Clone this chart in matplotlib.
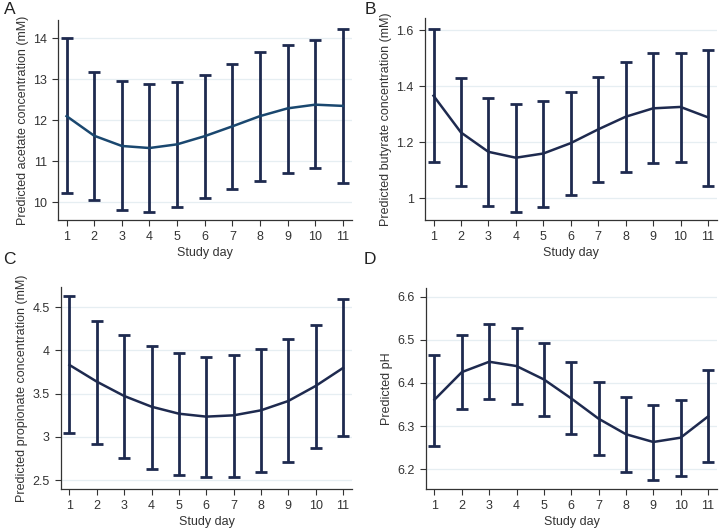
import numpy as np
import matplotlib
matplotlib.use('Agg')
import matplotlib.pyplot as plt

plt.rcParams['font.family'] = ['Liberation Sans', 'DejaVu Sans']

days = list(range(1, 12))

# panel A - acetate
acetate = [12.10, 11.62, 11.37, 11.32, 11.41, 11.61, 11.85, 12.10, 12.29, 12.38, 12.35]
acetate_hi = [14.00, 13.18, 12.95, 12.88, 12.94, 13.11, 13.37, 13.66, 13.85, 13.95, 14.24]
acetate_lo = [10.22, 10.06, 9.81, 9.76, 9.88, 10.10, 10.31, 10.51, 10.72, 10.82, 10.46]

# panel B - butyrate
butyrate = [1.366, 1.235, 1.166, 1.145, 1.160, 1.197, 1.246, 1.291, 1.321, 1.326, 1.289]
butyrate_hi = [1.605, 1.430, 1.359, 1.337, 1.348, 1.381, 1.434, 1.485, 1.517, 1.519, 1.530]
butyrate_lo = [1.128, 1.044, 0.974, 0.952, 0.971, 1.013, 1.057, 1.095, 1.127, 1.130, 1.045]

# panel C - propionate
propionate = [3.832, 3.639, 3.473, 3.349, 3.268, 3.234, 3.249, 3.307, 3.415, 3.589, 3.797]
propionate_hi = [4.631, 4.342, 4.180, 4.056, 3.967, 3.929, 3.944, 4.017, 4.129, 4.291, 4.597]
propionate_lo = [3.046, 2.920, 2.759, 2.631, 2.562, 2.535, 2.539, 2.597, 2.709, 2.867, 3.010]

# panel D - pH
ph = [6.361, 6.425, 6.449, 6.439, 6.408, 6.364, 6.317, 6.281, 6.263, 6.273, 6.322]
ph_hi = [6.465, 6.512, 6.537, 6.527, 6.493, 6.448, 6.402, 6.368, 6.349, 6.360, 6.430]
ph_lo = [6.254, 6.339, 6.362, 6.352, 6.324, 6.281, 6.233, 6.194, 6.175, 6.185, 6.217]

panels = [
    ('A', acetate, acetate_lo, acetate_hi, 'Predicted acetate concentration (mM)',
     [10, 11, 12, 13, 14], ['10', '11', '12', '13', '14'], (9.56, 14.45), '#1a476f'),
    ('B', butyrate, butyrate_lo, butyrate_hi, 'Predicted butyrate concentration (mM)',
     [1.0, 1.2, 1.4, 1.6], ['1', '1.2', '1.4', '1.6'], (0.923, 1.643), '#1e2a4f'),
    ('C', propionate, propionate_lo, propionate_hi, 'Predicted propionate concentration (mM)',
     [2.5, 3.0, 3.5, 4.0, 4.5], ['2.5', '3', '3.5', '4', '4.5'], (2.396, 4.735), '#1e2a4f'),
    ('D', ph, ph_lo, ph_hi, 'Predicted pH',
     [6.2, 6.3, 6.4, 6.5, 6.6], ['6.2', '6.3', '6.4', '6.5', '6.6'], (6.154, 6.62), '#1e2a4f'),
]

# axes rectangles in pixels: left, top, right, bottom
W, H = 720, 529
boxes = [(58, 20, 352, 220), (425, 18, 717, 220), (61, 287, 352, 489), (426, 288, 717, 489)]
letters = [(4, 17), (365, 17), (3, 267), (364, 267)]

fig = plt.figure(figsize=(7.2, 5.29), dpi=100)
bar_col = '#1e2a4f'

for (lab, mean, lo, hi, ylab, yt, ytl, ylim, lc), (l, t, r, b), (lx, ly) in zip(panels, boxes, letters):
    ax = fig.add_axes([l / W, 1 - b / H, (r - l) / W, (b - t) / H])
    mean = np.array(mean)
    err = [mean - np.array(lo), np.array(hi) - mean]
    ax.errorbar(days, mean, yerr=err, fmt='none', ecolor=bar_col, elinewidth=2,
                capsize=4, capthick=2, zorder=3)
    ax.plot(days, mean, color=lc, lw=1.8, zorder=4)
    ax.set_xlim(0.69, 11.33)
    ax.set_ylim(*ylim)
    ax.set_xticks(days)
    ax.set_yticks(yt)
    ax.set_yticklabels(ytl)
    ax.grid(axis='y', color='#e6eef2', lw=0.9, zorder=0)
    for s in ['top', 'right']:
        ax.spines[s].set_visible(False)
    for s in ['left', 'bottom']:
        ax.spines[s].set_color('#333333')
        ax.spines[s].set_linewidth(0.9)
    ax.tick_params(labelsize=9, colors='#333333', length=4, width=0.8, pad=4)
    ax.set_xlabel('Study day', fontsize=9, color='#333333', labelpad=3)
    ax.set_ylabel(ylab, fontsize=9, color='#333333', labelpad=3)
    fig.text(lx / W, 1 - ly / H, lab, fontsize=12.5, color='#222222', va='bottom', ha='left')

fig.savefig('out.png', dpi=100, facecolor='white')
